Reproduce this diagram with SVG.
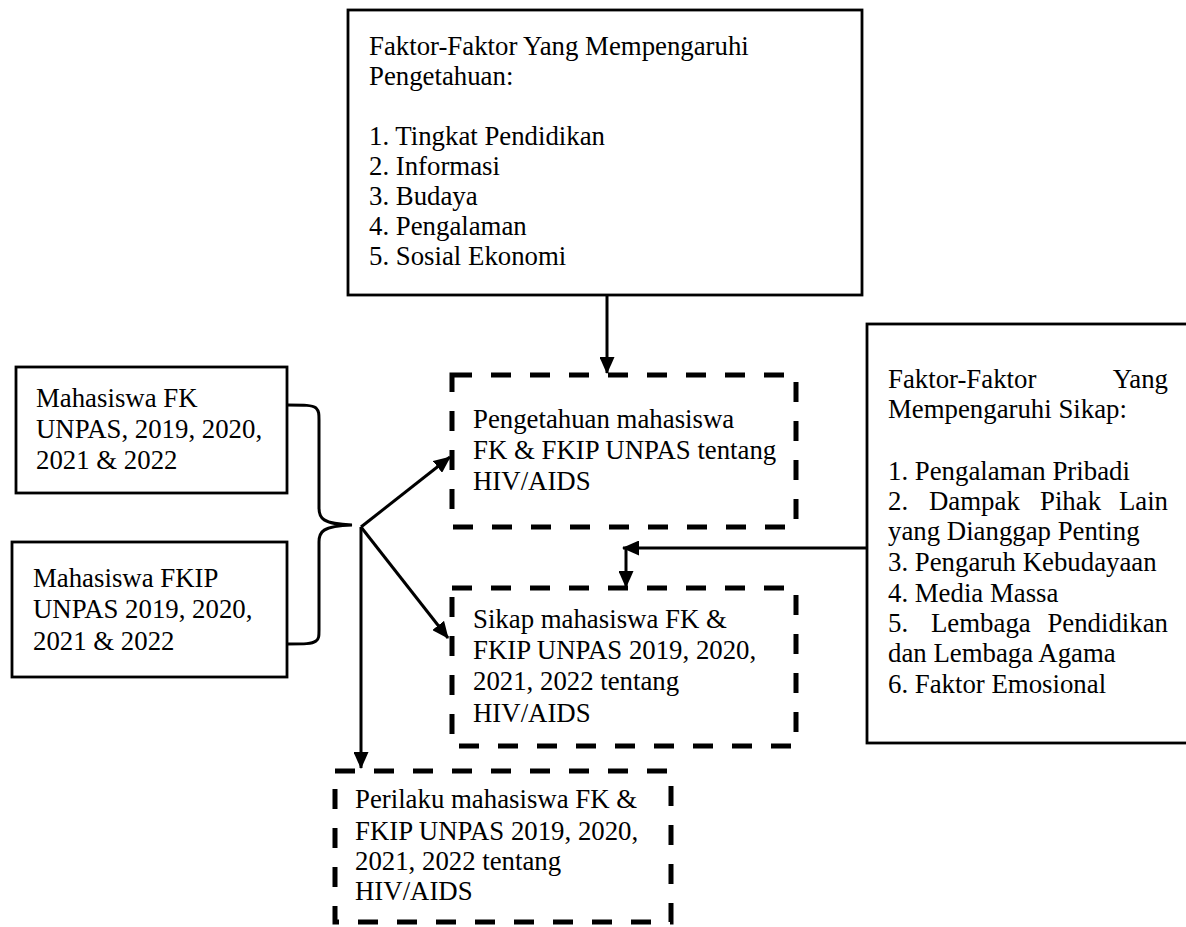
<svg xmlns="http://www.w3.org/2000/svg" width="1186" height="927" viewBox="0 0 1186 927">
<style>
text{font-family:"Liberation Serif","Times New Roman",serif;font-size:26.8px;fill:#000}
.box{fill:#fff;stroke:#000;stroke-width:2.8}
.dash{fill:none;stroke:#000;stroke-width:5;stroke-dasharray:20 19}
.conn{fill:none;stroke:#000;stroke-width:3}
</style>
<defs>
<marker id="ah" markerUnits="userSpaceOnUse" markerWidth="17" markerHeight="15" refX="16" refY="7.5" orient="auto">
<path d="M0,0 L17,7.5 L0,15 Z" fill="#000"/>
</marker>
</defs>
<rect width="1186" height="927" fill="#fff"/>
<g id="faktor-pengetahuan">
<rect class="box" x="348" y="10" width="514" height="285"/>
<text x="369" y="55">Faktor-Faktor Yang Mempengaruhi</text>
<text x="369" y="85">Pengetahuan:</text>
<text x="369" y="145">1. Tingkat Pendidikan</text>
<text x="369" y="175">2. Informasi</text>
<text x="369" y="205">3. Budaya</text>
<text x="369" y="235">4. Pengalaman</text>
<text x="369" y="265">5. Sosial Ekonomi</text>
</g>
<g id="faktor-sikap">
<rect class="box" x="867" y="324" width="330" height="419"/>
<text x="888" y="388">Faktor-Faktor</text>
<text x="1168" y="388" text-anchor="end">Yang</text>
<text x="888" y="418">Mempengaruhi Sikap:</text>
<text x="888" y="480">1. Pengalaman Pribadi</text>
<text x="888" y="510">2.</text>
<text x="929" y="510">Dampak</text>
<text x="1040" y="510">Pihak</text>
<text x="1168" y="510" text-anchor="end">Lain</text>
<text x="888" y="540">yang Dianggap Penting</text>
<text x="888" y="571">3. Pengaruh Kebudayaan</text>
<text x="888" y="602">4. Media Massa</text>
<text x="888" y="632">5.</text>
<text x="931" y="632">Lembaga</text>
<text x="1168" y="632" text-anchor="end">Pendidikan</text>
<text x="888" y="662">dan Lembaga Agama</text>
<text x="888" y="693">6. Faktor Emosional</text>
</g>
<g id="mhs-fk">
<rect class="box" x="16" y="367" width="271" height="126"/>
<text x="36" y="407">Mahasiswa FK</text>
<text x="36" y="438">UNPAS, 2019, 2020,</text>
<text x="36" y="469">2021 &amp; 2022</text>
</g>
<g id="mhs-fkip">
<rect class="box" x="12" y="542" width="275" height="135"/>
<text x="33" y="587">Mahasiswa FKIP</text>
<text x="33" y="618">UNPAS 2019, 2020,</text>
<text x="33" y="650">2021 &amp; 2022</text>
</g>
<g id="pengetahuan">
<rect class="dash" x="452" y="375" width="344" height="152"/>
<text x="473" y="428">Pengetahuan mahasiswa</text>
<text x="473" y="459">FK &amp; FKIP UNPAS tentang</text>
<text x="473" y="490">HIV/AIDS</text>
</g>
<g id="sikap">
<rect class="dash" x="452" y="588" width="344" height="158"/>
<text x="473" y="628">Sikap mahasiswa FK &amp;</text>
<text x="473" y="659">FKIP UNPAS 2019, 2020,</text>
<text x="473" y="690">2021, 2022 tentang</text>
<text x="473" y="722">HIV/AIDS</text>
</g>
<g id="perilaku">
<rect class="dash" x="335" y="771" width="336" height="151"/>
<text x="355" y="808">Perilaku mahasiswa FK &amp;</text>
<text x="355" y="840">FKIP UNPAS 2019, 2020,</text>
<text x="355" y="870">2021, 2022 tentang</text>
<text x="355" y="900">HIV/AIDS</text>
</g>
<g id="connectors">
<path class="conn" d="M287,405 C305,405 312,405 316,408 C319,411 319,414 319,420 L319,508 C319,518 322,524 352,525 C322,526 319,532 319,542 L319,630 C319,636 319,639 316,641 C312,644 305,644 287,644"/>
<line class="conn" x1="607" y1="295" x2="607" y2="373" marker-end="url(#ah)"/>
<line class="conn" x1="361" y1="527" x2="450" y2="457" marker-end="url(#ah)"/>
<line class="conn" x1="361" y1="527" x2="448" y2="638" marker-end="url(#ah)"/>
<line class="conn" x1="361" y1="527" x2="361" y2="768" marker-end="url(#ah)"/>
<line class="conn" x1="867" y1="548" x2="623" y2="548" marker-end="url(#ah)"/>
<line class="conn" x1="626" y1="548" x2="626" y2="587" marker-end="url(#ah)"/>
</g>
</svg>
